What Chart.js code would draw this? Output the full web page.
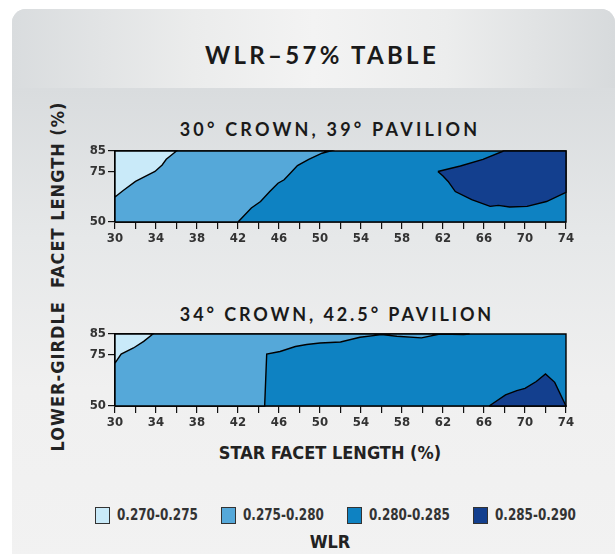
<!DOCTYPE html>
<html>
<head>
<meta charset="utf-8">
<script src="https://cdn.jsdelivr.net/npm/chart.js@4.4.0/dist/chart.umd.min.js"></script>
<style>
body{margin:0;width:616px;height:554px;overflow:hidden;background:#fff;position:relative;
  font-family:"Liberation Sans Narrow","Arial Narrow","DejaVu Sans Condensed",sans-serif;color:#222;}
#card{position:absolute;left:12px;top:9px;width:603px;height:560px;border-radius:14px 14px 0 0;overflow:hidden;
  background:linear-gradient(#d9dcde 79px,#e6e8e9 230px,#f0f0f0 380px,#f2f2f2);}
#band{position:absolute;left:0;top:0;width:100%;height:79px;
  background:linear-gradient(90deg,#d9dcde,#ebecec 30%,#f3f3f3 50%,#eceded 72%,#d7dadc);}
.title{position:absolute;font-family:Lato,"Open Sans",sans-serif;font-weight:bold;color:#1a1a1a;
  text-align:center;white-space:nowrap;}
.axt{position:absolute;font-weight:bold;font-size:18px;color:#222;white-space:pre;text-align:center;}
canvas{position:absolute;}
#legend{position:absolute;left:95px;top:506px;display:flex;}
.item{width:126px;display:flex;align-items:center;font-weight:bold;font-size:15.5px;color:#333;}
.item b{display:inline-block;transform:scaleX(0.86);transform-origin:left center;}
.sw{width:15px;height:17px;border:1px solid #333;margin-right:7px;box-sizing:border-box;}
</style>
</head>
<body>
<div id="card"><div id="band"></div></div>
<div class="title" style="left:122px;width:400px;top:40px;font-size:24px;letter-spacing:3.3px;">WLR–57% TABLE</div>
<div class="title" style="left:130px;width:400px;top:118px;font-size:18px;letter-spacing:3.2px;">30° CROWN, 39° PAVILION</div>
<div class="title" style="left:137px;width:400px;top:303px;font-size:18px;letter-spacing:2.9px;">34° CROWN, 42.5° PAVILION</div>
<div class="axt" style="left:130px;width:400px;top:442px;">STAR FACET LENGTH (%)</div>
<div class="axt" style="left:-143px;width:400px;top:266px;letter-spacing:1px;transform:rotate(-90deg);">LOWER-GIRDLE  FACET LENGTH (%)</div>
<canvas id="c1" width="510" height="110" style="left:70px;top:140px;"></canvas>
<canvas id="c2" width="510" height="110" style="left:70px;top:323px;"></canvas>
<div id="legend"></div>
<div class="axt" style="left:130px;width:400px;top:531px;">WLR</div>
<script>
// axis ticks
const starTicks = [30, 34, 38, 42, 46, 50, 54, 58, 62, 66, 70, 74];
const girdleTicks = [50, 75, 85];
const wlrBands = ['0.270-0.275', '0.275-0.280', '0.280-0.285', '0.285-0.290'];
const bandColors = ['#c9eaf9', '#55a8d9', '#0e82c2', '#133f8e'];

// 30 crown, 39 pavilion : contour edges [star, lower-girdle]
const topEdge270 = [[30,62.3],[30.8,65.5],[32,70],[32.9,72.4],[33.9,74.9],[34.6,78.1],[35,80.9],[36,85]];
const topEdge275 = [[42,50],[43.3,56.9],[44.2,60.1],[45.1,65],[45.9,69.1],[46.5,70.8],[47.1,74],
  [47.8,77.8],[48.9,80.9],[50.2,83.9],[51,85]];
const topEdge285 = [[61.5,74.9],[63.7,77.6],[65.9,80.9],[67.9,85],[74,85],[74,64.6],[72.1,60.1],
  [70.2,57.7],[68.5,57.4],[67.4,58.2],[66.6,57.7],[64.8,61],[63.2,65],[62.5,70],[62,72.7]];

// 34 crown, 42.5 pavilion
const botEdge270 = [[30,70.8],[30.6,75.2],[31.8,78.2],[32.8,81.4],[33.7,85]];
const botEdge275 = [[44.6,50],[44.8,75.2],[46.1,76.5],[47.6,78.9],[48.7,79.9],[50,80.6],[52,81.1],
  [53.9,83.4],[56,84.7],[57.5,83.9],[59.9,83.1],[61.7,85],[64,84.7],[64.6,85]];
const botEdge285 = [[66.5,50],[68.1,55.4],[69.2,57.5],[70,58.6],[71.1,61.9],[72,65.6],[72.9,61.5],[74,50]];

const narrow = '"Liberation Sans Narrow","Arial Narrow","DejaVu Sans Condensed",sans-serif';

function closed(pts) {
  const p = pts.map(a => ({x: a[0], y: a[1]}));
  p.push({x: pts[0][0], y: pts[0][1]});
  return p;
}

function region(pts, color, order) {
  return {
    data: closed(pts),
    backgroundColor: color,
    borderColor: '#000',
    borderWidth: 1.4,
    pointRadius: 0,
    fill: 'shape',
    tension: 0,
    order: order,
    clip: 3
  };
}

function makeChart(id, e270, e275, e285, axisH) {
  const x0 = starTicks[0], x1 = starTicks[starTicks.length - 1];
  const y0 = girdleTicks[0], y1 = girdleTicks[girdleTicks.length - 1];
  const full = [[x0,y0],[x1,y0],[x1,y1],[x0,y1]];
  const mid = [[x0,y0]].concat(e275, [[x0,y1]]);
  const light = e270.concat([[x0,y1]]);
  const dark = e285;
  new Chart(document.getElementById(id), {
    type: 'line',
    data: {
      datasets: [
        region(full, bandColors[2], 4),
        region(mid, bandColors[1], 3),
        region(light, bandColors[0], 2),
        region(dark, bandColors[3], 1)
      ]
    },
    options: {
      responsive: false,
      animation: false,
      events: [],
      layout: {padding: {top: 11, right: 14, left: 0, bottom: 0}},
      plugins: {legend: {display: false}, tooltip: {enabled: false}},
      scales: {
        x: {
          type: 'linear', min: x0, max: x1,
          afterFit: s => { s.height = axisH; },
          ticks: {
            stepSize: 2, autoSkip: false, maxRotation: 0, padding: 2,
            color: '#333', font: {family: narrow, weight: 'bold', size: 13},
            callback: v => starTicks.includes(v) ? v : ''
          },
          grid: {drawOnChartArea: false, tickLength: 7, color: '#111', lineWidth: 1.2},
          border: {color: '#111', width: 1.5}
        },
        y: {
          type: 'linear', min: y0, max: y1,
          afterFit: s => { s.width = 45; },
          afterBuildTicks: s => { s.ticks = girdleTicks.map(v => ({value: v})); },
          ticks: {padding: 2, color: '#333', font: {family: narrow, weight: 'bold', size: 13}},
          grid: {drawOnChartArea: false, tickLength: 7, color: '#111', lineWidth: 1.2},
          border: {color: '#111', width: 1.5}
        }
      }
    }
  });
}

makeChart('c1', topEdge270, topEdge275, topEdge285, 28);
makeChart('c2', botEdge270, botEdge275, botEdge285, 27);

const legend = document.getElementById('legend');
wlrBands.forEach((label, i) => {
  const item = document.createElement('div');
  item.className = 'item';
  item.innerHTML = '<span class="sw" style="background:' + bandColors[i] + '"></span><b>' + label + '</b>';
  legend.appendChild(item);
});
</script>
</body>
</html>
